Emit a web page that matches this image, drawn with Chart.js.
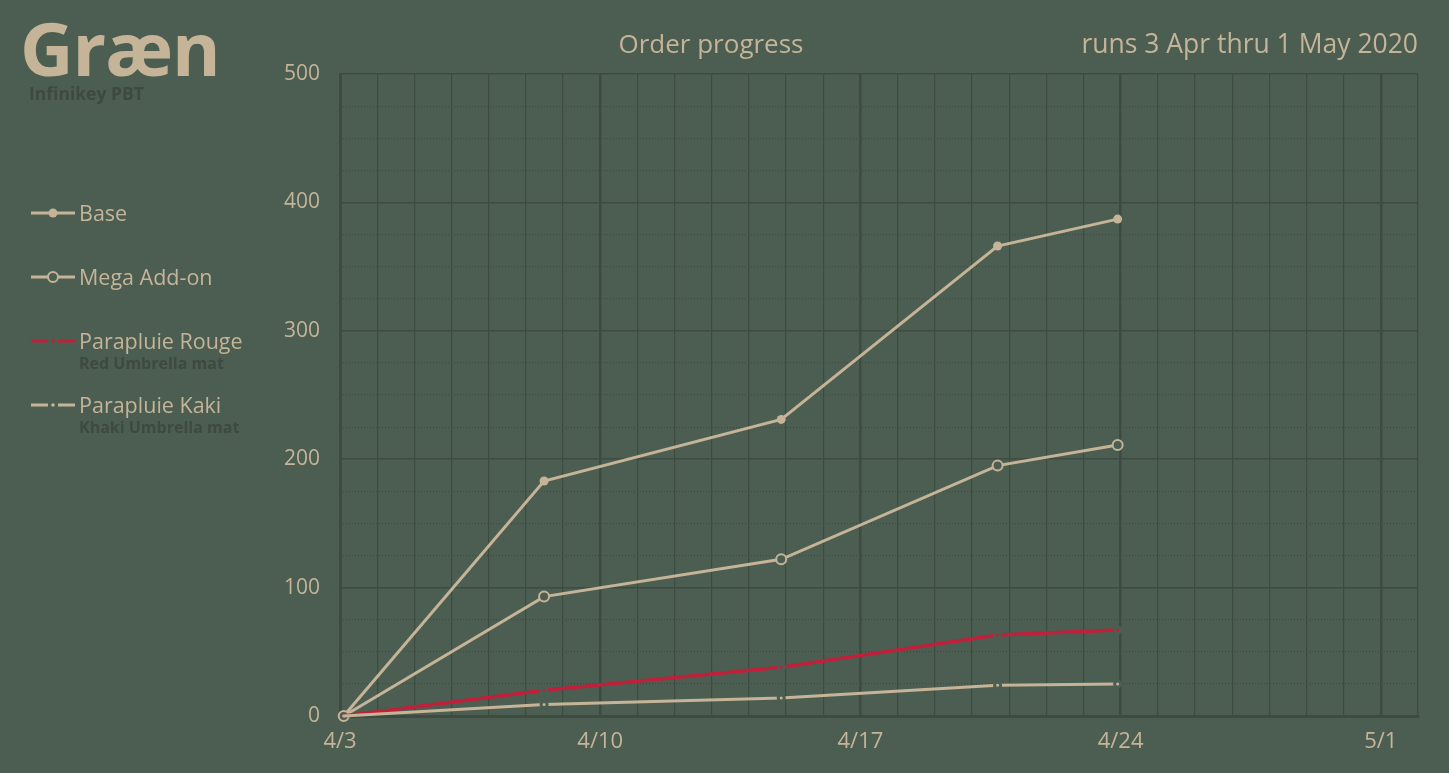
<!DOCTYPE html>
<html>
<head>
<meta charset="utf-8">
<title>Græn order progress</title>
<script src="https://cdn.jsdelivr.net/npm/chart.js@4.4.1/dist/chart.umd.min.js"></script>
<style>
  body { margin: 0; background: #4c5e52; font-family: "Open Sans", sans-serif; }
  #wrap { position: relative; width: 1449px; height: 773px; }
  #logo { position: absolute; left: 20px; top: -3px; font-size: 74px; font-weight: 700; color: #c5b497; letter-spacing: -1px; }
  #brand { position: absolute; left: 29px; top: 81px; font-size: 17.5px; font-weight: 700; color: #3d4a41; }
  #title { position: absolute; left: 0; width: 1422px; top: 25px; text-align: center; font-size: 26px; color: #c5b497; }
  #runs { position: absolute; right: 31px; top: 25px; font-size: 26.5px; color: #c5b497; }
  #legend { position: absolute; left: 31px; top: 198px; }
  .item { height: 64px; display: flex; align-items: flex-start; }
  .item canvas { margin-top: 8px; margin-right: 4px; }
  .lbl { font-size: 21.5px; line-height: 30px; color: #c5b497; }
  .sub { font-size: 16px; line-height: 14px; font-weight: 700; color: #3d4a41; }
</style>
</head>
<body>
<div id="wrap">
  <canvas id="myChart"></canvas>
  <div id="logo">Græn</div>
  <div id="brand">Infinikey PBT</div>
  <div id="title">Order progress</div>
  <div id="runs">runs 3 Apr thru 1 May 2020</div>
  <div id="legend"></div>
</div>
<script>
// days since 3 Apr 2020
const days = [0.1, 5.49, 11.87, 17.69, 20.92];
const weekLabels = ['4/3', '4/10', '4/17', '4/24', '5/1'];

const base = [0, 183, 231, 366, 387];
const megaAddon = [0, 93, 122, 195, 211];
const rouge = [0, 20, 38, 63, 67];
const kaki = [0, 9, 14, 24, 25];

const names = ['Base', 'Mega Add-on', 'Parapluie Rouge', 'Parapluie Kaki'];
const subNames = ['', '', 'Red Umbrella mat', 'Khaki Umbrella mat'];

const bg = '#4c5e52';
const tan = '#c5b497';
const red = '#c0203a';
const grid = '#3d4b41';

function pts(values) {
  return values.map((v, i) => ({ x: days[i], y: v }));
}

const dotRadius = ctx => ctx.dataIndex === 0 ? 1.5 : 3;
const dotBorder = ctx => ctx.dataIndex === 0 ? 0 : 3;

// higher order is drawn first, so Kaki ends up on top
const datasets = [
  { label: names[0], data: pts(base), order: 4, borderColor: tan, borderWidth: 3, clip: false,
    pointRadius: 4.5, pointBackgroundColor: tan, pointBorderWidth: 0 },
  { label: names[1], data: pts(megaAddon), order: 3, borderColor: tan, borderWidth: 3, clip: false,
    pointRadius: 5, pointBackgroundColor: bg, pointBorderColor: tan, pointBorderWidth: 2 },
  { label: names[2], data: pts(rouge), order: 2, borderColor: red, borderWidth: 3.5, clip: false,
    pointRadius: dotRadius, pointBackgroundColor: red, pointBorderColor: bg, pointBorderWidth: dotBorder },
  { label: names[3], data: pts(kaki), order: 1, borderColor: tan, borderWidth: 3, clip: false,
    pointRadius: dotRadius, pointBackgroundColor: tan, pointBorderColor: bg, pointBorderWidth: dotBorder }
];

const config = {
  type: 'line',
  data: { datasets: datasets },
  options: {
    responsive: true,
    maintainAspectRatio: false,
    animation: false,
    layout: { padding: { top: 74, right: 31, left: 0, bottom: 0 } },
    elements: { line: { tension: 0 } },
    plugins: { legend: { display: false }, tooltip: { enabled: false } },
    scales: {
      x: {
        type: 'linear', min: 0, max: 29,
        ticks: {
          stepSize: 1, autoSkip: false, maxRotation: 0, padding: 13,
          color: tan, font: { family: 'Open Sans', size: 22 },
          callback: v => v % 7 === 0 ? weekLabels[v / 7] : ''
        },
        grid: { color: grid, drawTicks: false,
          lineWidth: ctx => ctx.tick && ctx.tick.value % 7 === 0 ? 2.5 : 1.2 },
        border: { color: grid, width: 3 },
        afterFit: s => { s.height = 57; }
      },
      y: {
        min: 0, max: 500,
        ticks: { stepSize: 100, padding: 20, color: tan, font: { family: 'Open Sans', size: 21 } },
        grid: { color: grid, lineWidth: 1.5, drawTicks: false },
        border: { color: grid, width: 3 },
        afterFit: s => { s.width = 340; }
      },
      y2: {
        position: 'left', min: 0, max: 500,
        ticks: { display: false, stepSize: 25 },
        grid: { drawTicks: false, lineWidth: 1.2,
          color: ctx => ctx.tick && ctx.tick.value % 100 === 0 ? 'rgba(0,0,0,0)' : grid },
        border: { display: false, dash: [1, 2] },
        afterFit: s => { s.width = 0; }
      }
    }
  }
};

new Chart(document.getElementById('myChart'), config);

// legend on the left, with line samples drawn like the series
const legend = document.getElementById('legend');
datasets.forEach((ds, i) => {
  const item = document.createElement('div');
  item.className = 'item';
  const c = document.createElement('canvas');
  c.width = 44; c.height = 14;
  const g = c.getContext('2d');
  g.strokeStyle = ds.borderColor;
  g.lineWidth = 3;
  g.beginPath(); g.moveTo(0, 7); g.lineTo(44, 7); g.stroke();
  g.beginPath();
  if (i === 0) {
    g.fillStyle = tan; g.arc(22, 7, 4.5, 0, Math.PI * 2); g.fill();
  } else if (i === 1) {
    g.fillStyle = bg; g.arc(22, 7, 5, 0, Math.PI * 2); g.fill();
    g.lineWidth = 2; g.stroke();
  } else {
    g.fillStyle = bg; g.fillRect(17, 0, 10, 14);
    g.beginPath(); g.fillStyle = ds.borderColor; g.arc(22, 7, 1.8, 0, Math.PI * 2); g.fill();
  }
  item.appendChild(c);
  const txt = document.createElement('div');
  txt.innerHTML = '<div class="lbl">' + ds.label + '</div>' +
    (subNames[i] ? '<div class="sub">' + subNames[i] + '</div>' : '');
  item.appendChild(txt);
  legend.appendChild(item);
});
</script>
</body>
</html>
